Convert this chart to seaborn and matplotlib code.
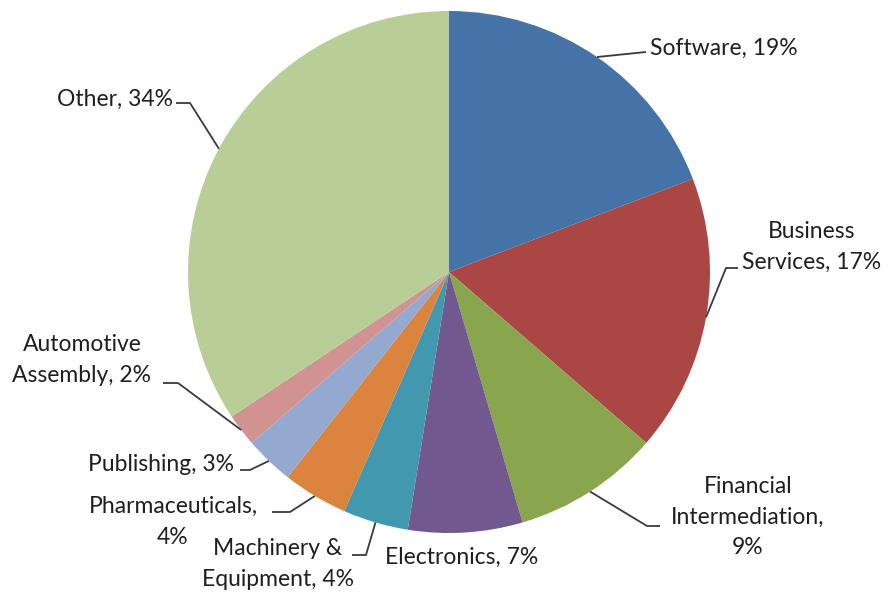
import numpy as np
import matplotlib
matplotlib.use("Agg")
import matplotlib.pyplot as plt
import seaborn as sns

sectors = ["Software", "Business Services", "Financial Intermediation", "Electronics",
           "Machinery & Equipment", "Pharmaceuticals", "Publishing",
           "Automotive Assembly", "Other"]
shares = [19, 17, 9, 7, 4, 4, 3, 2, 34]
colors = ["#4572A7", "#AA4643", "#89A54E", "#71588F", "#4198AF",
          "#DB843D", "#93A9CF", "#D19392", "#B9CD96"]

label_texts = ["Software, 19%", "Business\nServices, 17%", "Financial\nIntermediation,\n9%",
               "Electronics, 7%", "Machinery &\nEquipment, 4%", "Pharmaceuticals,\n4%",
               "Publishing, 3%", "Automotive\nAssembly, 2%", "Other, 34%"]

sns.set_style("white")
plt.rcParams["font.family"] = ["Lato", "DejaVu Sans"]

W, H = 892, 594
CX, CY, R = 449, 272, 261  # pie centre and radius in pixels

fig = plt.figure(figsize=(W / 100, H / 100), dpi=100)
ax = fig.add_axes([0, 0, 1, 1])

wedges, _ = ax.pie(shares, colors=sns.color_palette(colors), startangle=90,
                   counterclock=False, radius=1.0, center=(0, 0),
                   wedgeprops=dict(linewidth=0))

ax.set_xlim(-CX / R, (W - CX) / R)
ax.set_ylim(-(H - CY) / R, CY / R)
ax.set_aspect("equal")
ax.axis("off")


def px(x, y):
    return (x - CX) / R, (CY - y) / R


# label anchor (pixels), alignment, elbow and end of the leader line (pixels)
placement = [
    dict(pos=(650, 48), ha="left", elbow=None, end=(646, 52)),
    dict(pos=(812, 247), ha="center", elbow=(726, 268), end=(738, 268)),
    dict(pos=(748, 517), ha="center", elbow=(647, 526), end=(660, 526)),
    dict(pos=(462, 557), ha="center", elbow=None, end=None),
    dict(pos=(278, 564), ha="center", elbow=(366, 555), end=(352, 555)),
    dict(pos=(173, 522), ha="center", elbow=(290, 512), end=(272, 512)),
    dict(pos=(234, 465), ha="right", elbow=(250, 470), end=(240, 470)),
    dict(pos=(82, 360), ha="center", elbow=(178, 383), end=(163, 383)),
    dict(pos=(173, 99), ha="right", elbow=(190, 103), end=(176, 103)),
]

for w, txt, p in zip(wedges, label_texts, placement):
    mid = np.deg2rad((w.theta1 + w.theta2) / 2)
    ex, ey = np.cos(mid), np.sin(mid)
    if p["end"] is not None:
        pts = [(ex, ey)]
        if p["elbow"] is not None:
            pts.append(px(*p["elbow"]))
        pts.append(px(*p["end"]))
        xs, ys = zip(*pts)
        ax.plot(xs, ys, color="#3a3a3a", lw=1.3, solid_capstyle="butt")
    tx, ty = px(*p["pos"])
    ax.text(tx, ty, txt, ha=p["ha"], va="center", fontsize=16.5,
            color="#1f1f1f", linespacing=1.55, multialignment="center")

fig.savefig("out.png", dpi=100, facecolor="white")
